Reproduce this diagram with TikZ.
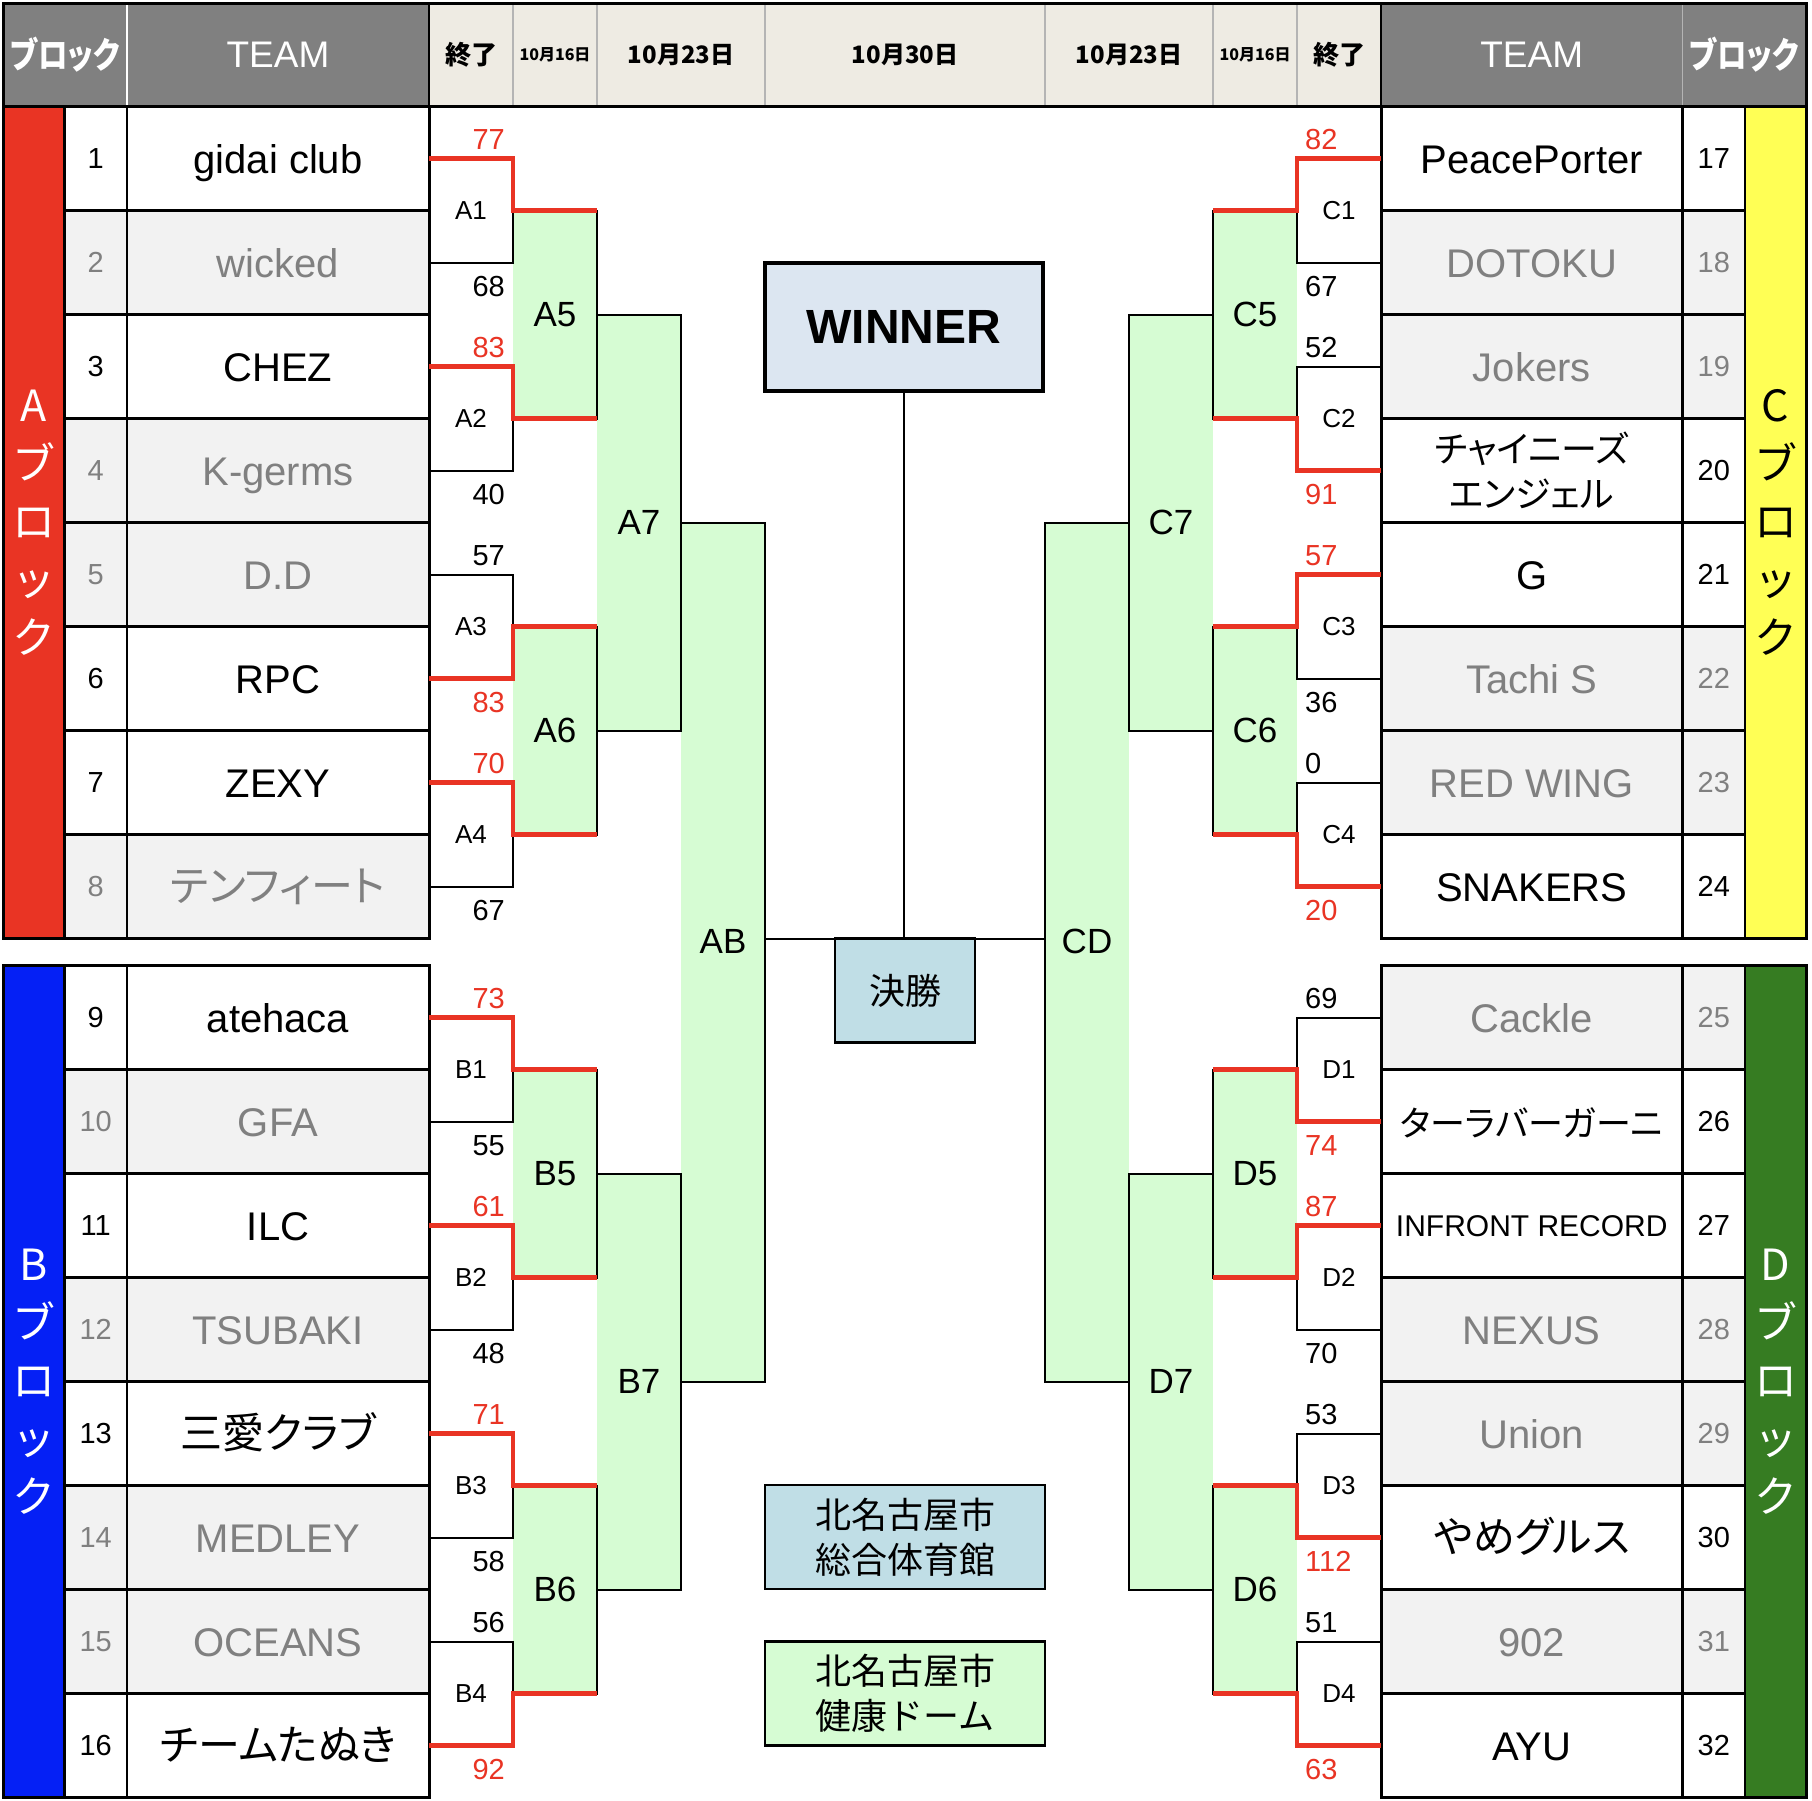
\documentclass[tikz,border=0pt]{standalone}
\usepackage{fontspec}
\usepackage{graphicx}
\setmainfont{Liberation Sans}
\newfontfamily\jp[RawFeature=+palt]{Noto Sans CJK JP}
\newfontfamily\jpm{Noto Sans CJK JP}
\definecolor{redA}{HTML}{E93424}
\definecolor{blueB}{HTML}{0520F5}
\definecolor{yelC}{HTML}{FFFF55}
\definecolor{grnD}{HTML}{367C22}
\definecolor{hdrgray}{HTML}{808080}
\definecolor{hdrbeige}{HTML}{EEEBE3}
\definecolor{lgray}{HTML}{F2F2F2}
\definecolor{gtext}{HTML}{808080}
\definecolor{brgreen}{HTML}{D6FCD3}
\definecolor{lblue}{HTML}{C0DEE6}
\definecolor{winbox}{HTML}{DCE6F1}
\definecolor{sepgray}{HTML}{B4B4B4}
\tikzset{
  bline/.style={line width=2pt, draw=black},
  rline/.style={line width=4.5pt, draw=redA, line join=miter},
  gridl/.style={line width=2.5pt, draw=black},
  outl/.style={line width=3pt, draw=black},
  fillW/.style={fill=white},
  fillL/.style={fill=lgray},
  txtW/.style={text=black},
  txtL/.style={text=gtext},
  nametxt/.style={font=\fontsize{40}{46}\selectfont, inner sep=0pt, text height=28.8pt, text depth=0pt},
  jpn/.style={font=\jp\fontsize{42}{46}\selectfont, text height=30pt},
  jpsm/.style={font=\jp\fontsize{35}{46}\selectfont},
  jptwo/.style={font=\jp\fontsize{36}{45}\selectfont, align=center, text height={}, text depth={}},
  latsm/.style={font=\fontsize{30}{36}\selectfont, text height=21.6pt},
  numtxt/.style={font=\fontsize{29}{34}\selectfont, inner sep=0pt},
  score/.style={font=\fontsize{29}{34}\selectfont, inner sep=0pt},
  sW/.style={text=redA},
  sL/.style={text=black},
  lab1/.style={font=\fontsize{26}{30}\selectfont, inner sep=0pt},
  lab2/.style={font=\fontsize{35}{40}\selectfont, inner sep=0pt},
  striptxt/.style={font=\jpm\fontsize{43}{58}\selectfont, align=center, inner sep=0pt},
  hdrjp/.style={font=\jp\bfseries\fontsize{36}{40}\selectfont, inner sep=0pt},
  hdrlat/.style={font=\fontsize{37}{40}\selectfont, inner sep=0pt, text=white},
  hdrend/.style={font=\jp\bfseries\fontsize{26}{30}\selectfont, inner sep=0pt},
  hdrsmall/.style={font=\jp\bfseries\fontsize{16}{20}\selectfont, inner sep=0pt},
  hdrdate/.style={font=\jp\bfseries\fontsize{24}{28}\selectfont, inner sep=0pt},
}
\newcommand\LRow[5]{%
  \fill[fill#3] (64.5,#2-52) rectangle (429,#2+52);
  \node[numtxt,txt#3] (n#1) at (95.75,#2) {#1};
  \node[nametxt,txt#3,#4] (t#1) at (278,#2) {#5};
}
\newcommand\RRow[5]{%
  \fill[fill#3] (1381,#2-52) rectangle (1745,#2+52);
  \node[numtxt,txt#3] (n#1) at (1713.75,#2) {#1};
  \node[nametxt,txt#3,#4] (t#1) at (1531.75,#2) {#5};
}
\newcommand\LGrid[1]{%
  \foreach \k in {1,...,7} {\draw[gridl] (64.5,#1+104*\k) -- (429,#1+104*\k);}
  \draw[gridl] (64.5,#1) -- (64.5,#1+832) (127,#1) -- (127,#1+832);
  \draw[outl] (3,#1) rectangle (429,#1+832);
}
\newcommand\RGrid[1]{%
  \foreach \k in {1,...,7} {\draw[gridl] (1381,#1+104*\k) -- (1745,#1+104*\k);}
  \draw[gridl] (1745,#1) -- (1745,#1+832) (1682.5,#1) -- (1682.5,#1+832);
  \draw[outl] (1381,#1) rectangle (1806,#1+832);
}
\newcommand\LFirst[6]{%
  \draw[bline] (429,#2) rectangle (513,#2+104);
  \node[lab1] (#1) at (471,#2+52) {#1};
  \node[score,#4,anchor=east] (#1a) at (505,#2-19) {#3};
  \node[score,#6,anchor=east] (#1b) at (505,#2+127.5) {#5};
}
\newcommand\RFirst[6]{%
  \draw[bline] (1297,#2) rectangle (1381,#2+104);
  \node[lab1] (#1) at (1339,#2+52) {#1};
  \node[score,#4,anchor=west] (#1a) at (1305,#2-19) {#3};
  \node[score,#6,anchor=west] (#1b) at (1305,#2+127.5) {#5};
}
\newcommand\GEdgeL[6]{%
  \draw[bline] (#2,#3) -- (#4,#3) -- (#4,#5) -- (#2,#5);
  \node[lab2] (#1) at ({(#2+#4)/2},#6) {#1};
}
\newcommand\GEdgeR[6]{%
  \draw[bline] (#4,#3) -- (#2,#3) -- (#2,#5) -- (#4,#5);
  \node[lab2] (#1) at ({(#2+#4)/2},#6) {#1};
}
\begin{document}
\begin{tikzpicture}[x=1pt,y=-1pt]
\useasboundingbox (0,0) rectangle (1812,1800);
\fill[white] (0,0) rectangle (1812,1800);

% ---------- header ----------
\fill[hdrgray] (3,3) rectangle (429,106.7);
\fill[hdrbeige] (429,3) rectangle (1381,106.7);
\fill[hdrgray] (1381,3) rectangle (1806,106.7);
\draw[line width=1.5pt, white] (127,3) -- (127,106.7);
\draw[line width=1.5pt, sepgray] (1682.5,3) -- (1682.5,106.7);
\foreach \xx in {513,597,765,1045,1213,1297} {\draw[line width=1.5pt, sepgray] (\xx,3) -- (\xx,106.7);}
\draw[gridl] (429,3) -- (429,106.7) (1381,3) -- (1381,106.7);
\draw[outl] (3,3) rectangle (1806,106.7);
\node[hdrjp,text=white] (hb1) at (65,55) {\scalebox{0.82}[1]{ブロック}};
\node[hdrlat] (ht1) at (278,55) {TEAM};
\node[hdrend] (hs1) at (471,55) {終了};
\node[hdrsmall] (hd1) at (555,55) {10月16日};
\node[hdrdate] (hd2) at (681,55) {10月23日};
\node[hdrdate] (hd3) at (905,55) {10月30日};
\node[hdrdate] (hd4) at (1129,55) {10月23日};
\node[hdrsmall] (hd5) at (1255,55) {10月16日};
\node[hdrend] (hs2) at (1339,55) {終了};
\node[hdrlat] (ht2) at (1531.75,55) {TEAM};
\node[hdrjp,text=white] (hb2) at (1744,55) {\scalebox{0.82}[1]{ブロック}};

% ---------- team tables ----------
\LRow{1}{158.7}{W}{}{gidai club}
\LRow{2}{262.7}{L}{}{wicked}
\LRow{3}{366.7}{W}{}{CHEZ}
\LRow{4}{470.7}{L}{}{K-germs}
\LRow{5}{574.7}{L}{}{D.D}
\LRow{6}{678.7}{W}{}{RPC}
\LRow{7}{782.7}{W}{}{ZEXY}
\LRow{8}{886.7}{L}{jpn}{テンフィート}
\LRow{9}{1017.7}{W}{}{atehaca}
\LRow{10}{1121.7}{L}{}{GFA}
\LRow{11}{1225.7}{W}{}{ILC}
\LRow{12}{1329.7}{L}{}{TSUBAKI}
\LRow{13}{1433.7}{W}{jpn}{三愛クラブ}
\LRow{14}{1537.7}{L}{}{MEDLEY}
\LRow{15}{1641.7}{L}{}{OCEANS}
\LRow{16}{1745.7}{W}{jpn}{チームたぬき}
\RRow{17}{158.7}{W}{}{PeacePorter}
\RRow{18}{262.7}{L}{}{DOTOKU}
\RRow{19}{366.7}{L}{}{Jokers}
\RRow{20}{470.7}{W}{jptwo}{チャイニーズ\\エンジェル}
\RRow{21}{574.7}{W}{}{G}
\RRow{22}{678.7}{L}{}{Tachi S}
\RRow{23}{782.7}{L}{}{RED WING}
\RRow{24}{886.7}{W}{}{SNAKERS}
\RRow{25}{1017.7}{L}{}{Cackle}
\RRow{26}{1121.7}{W}{jpsm}{ターラバーガーニ}
\RRow{27}{1225.7}{W}{latsm}{INFRONT RECORD}
\RRow{28}{1329.7}{L}{}{NEXUS}
\RRow{29}{1433.7}{L}{}{Union}
\RRow{30}{1537.7}{W}{jpn}{やめグルス}
\RRow{31}{1641.7}{L}{}{902}
\RRow{32}{1745.7}{W}{}{AYU}

% strips
\fill[redA] (3,106.7) rectangle (64.5,938.7);
\fill[blueB] (3,965.7) rectangle (64.5,1797.7);
\fill[yelC] (1745,106.7) rectangle (1806,938.7);
\fill[grnD] (1745,965.7) rectangle (1806,1797.7);
\node[striptxt,text=white] (sA) at (33.75,522.7) {A\\ブ\\ロ\\ッ\\ク};
\node[striptxt,text=white] (sB) at (33.75,1381.7) {B\\ブ\\ロ\\ッ\\ク};
\node[striptxt,text=black] (sC) at (1775.5,522.7) {C\\ブ\\ロ\\ッ\\ク};
\node[striptxt,text=white] (sD) at (1775.5,1381.7) {D\\ブ\\ロ\\ッ\\ク};

\LGrid{106.7}
\LGrid{965.7}
\RGrid{106.7}
\RGrid{965.7}

% ---------- bracket fills ----------
\foreach \a/\b/\c/\d in {513/210.7/597/418.7, 513/626.7/597/834.7, 513/1069.7/597/1277.7, 513/1485.7/597/1693.7,
  597/314.7/681/730.7, 597/1173.7/681/1589.7, 681/522.7/765/1381.7,
  1213/210.7/1297/418.7, 1213/626.7/1297/834.7, 1213/1069.7/1297/1277.7, 1213/1485.7/1297/1693.7,
  1129/314.7/1213/730.7, 1129/1173.7/1213/1589.7, 1045/522.7/1129/1381.7}
  {\fill[brgreen] (\a,\b) rectangle (\c,\d);}

% first round
\LFirst{A1}{158.7}{77}{sW}{68}{sL}
\LFirst{A2}{366.7}{83}{sW}{40}{sL}
\LFirst{A3}{574.7}{57}{sL}{83}{sW}
\LFirst{A4}{782.7}{70}{sW}{67}{sL}
\LFirst{B1}{1017.7}{73}{sW}{55}{sL}
\LFirst{B2}{1225.7}{61}{sW}{48}{sL}
\LFirst{B3}{1433.7}{71}{sW}{58}{sL}
\LFirst{B4}{1641.7}{56}{sL}{92}{sW}
\RFirst{C1}{158.7}{82}{sW}{67}{sL}
\RFirst{C2}{366.7}{52}{sL}{91}{sW}
\RFirst{C3}{574.7}{57}{sW}{36}{sL}
\RFirst{C4}{782.7}{0}{sL}{20}{sW}
\RFirst{D1}{1017.7}{69}{sL}{74}{sW}
\RFirst{D2}{1225.7}{87}{sW}{70}{sL}
\RFirst{D3}{1433.7}{53}{sL}{112}{sW}
\RFirst{D4}{1641.7}{51}{sL}{63}{sW}

% later rounds
\GEdgeL{A5}{513}{210.7}{597}{418.7}{314.7}
\GEdgeL{A6}{513}{626.7}{597}{834.7}{730.7}
\GEdgeL{B5}{513}{1069.7}{597}{1277.7}{1173.7}
\GEdgeL{B6}{513}{1485.7}{597}{1693.7}{1589.7}
\GEdgeL{A7}{597}{314.7}{681}{730.7}{522.7}
\GEdgeL{B7}{597}{1173.7}{681}{1589.7}{1381.7}
\GEdgeL{AB}{681}{522.7}{765}{1381.7}{941}
\GEdgeR{C5}{1213}{210.7}{1297}{418.7}{314.7}
\GEdgeR{C6}{1213}{626.7}{1297}{834.7}{730.7}
\GEdgeR{D5}{1213}{1069.7}{1297}{1277.7}{1173.7}
\GEdgeR{D6}{1213}{1485.7}{1297}{1693.7}{1589.7}
\GEdgeR{C7}{1129}{314.7}{1213}{730.7}{522.7}
\GEdgeR{D7}{1129}{1173.7}{1213}{1589.7}{1381.7}
\GEdgeR{CD}{1045}{522.7}{1129}{1381.7}{941}

% winner paths
\draw[rline] (429,158.7) -| (513,210.7) -- (597,210.7);
\draw[rline] (429,366.7) -| (513,418.7) -- (597,418.7);
\draw[rline] (429,678.7) -| (513,626.7) -- (597,626.7);
\draw[rline] (429,782.7) -| (513,834.7) -- (597,834.7);
\draw[rline] (429,1017.7) -| (513,1069.7) -- (597,1069.7);
\draw[rline] (429,1225.7) -| (513,1277.7) -- (597,1277.7);
\draw[rline] (429,1433.7) -| (513,1485.7) -- (597,1485.7);
\draw[rline] (429,1745.7) -| (513,1693.7) -- (597,1693.7);
\draw[rline] (1381,158.7) -| (1297,210.7) -- (1213,210.7);
\draw[rline] (1381,470.7) -| (1297,418.7) -- (1213,418.7);
\draw[rline] (1381,574.7) -| (1297,626.7) -- (1213,626.7);
\draw[rline] (1381,886.7) -| (1297,834.7) -- (1213,834.7);
\draw[rline] (1381,1121.7) -| (1297,1069.7) -- (1213,1069.7);
\draw[rline] (1381,1225.7) -| (1297,1277.7) -- (1213,1277.7);
\draw[rline] (1381,1537.7) -| (1297,1485.7) -- (1213,1485.7);
\draw[rline] (1381,1745.7) -| (1297,1693.7) -- (1213,1693.7);

% ---------- final ----------
\coordinate (ABr) at (765,938.7);
\coordinate (CDl) at (1045,938.7);
\draw[bline] (ABr) -- (CDl);
\node[draw, line width=4pt, fill=winbox, minimum width=278pt, minimum height=128pt, inner sep=0pt,
  font=\bfseries\fontsize{48}{52}\selectfont] (win) at (904,327) {WINNER};
\node[draw, line width=2.5pt, fill=lblue, minimum width=140pt, minimum height=104pt, inner sep=0pt,
  font=\jpm\fontsize{36}{40}\selectfont] (fin) at (905,990.7) {決勝};
\draw[bline] (win.south) -- (win.south |- ABr);

\node[draw, line width=2.5pt, fill=lblue, minimum width=280pt, minimum height=104pt, inner sep=0pt,
  align=center, font=\jpm\fontsize{36}{45}\selectfont] (v1) at (905,1537) {北名古屋市\\総合体育館};
\node[draw, line width=2.5pt, fill=brgreen, minimum width=280pt, minimum height=104pt, inner sep=0pt,
  align=center, font=\jpm\fontsize{36}{45}\selectfont] (v2) at (905,1693.5) {北名古屋市\\健康ドーム};
\end{tikzpicture}
\end{document}
